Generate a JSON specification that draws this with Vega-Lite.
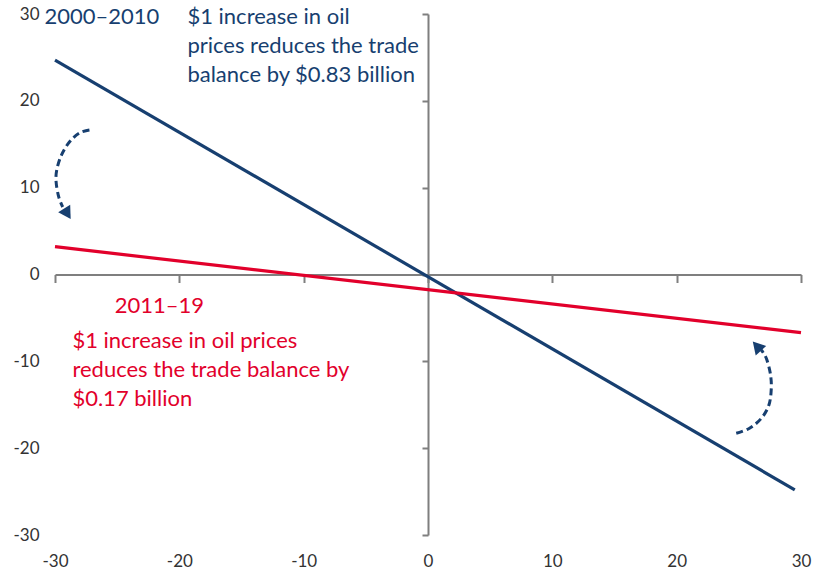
{
  "$schema": "https://vega.github.io/schema/vega-lite/v6.json",
  "width": 746,
  "height": 521,
  "autosize": {"type": "none"},
  "padding": {"left": 55, "top": 14, "right": 18, "bottom": 45},
  "background": "white",
  "config": {"view": {"stroke": null}, "font": "Lato"},
  "datasets": {
    "lines": [
      {"period": "2000–2010", "x": -30, "y": 24.7},
      {"period": "2000–2010", "x": 29.5, "y": -24.8},
      {"period": "2011–19", "x": -30, "y": 3.2},
      {"period": "2011–19", "x": 30, "y": -6.7}
    ],
    "arrows": [
      {"arrow": "left", "i": 1, "x": -27.23, "y": 16.64},
      {"arrow": "left", "i": 2, "x": -28.04, "y": 16.3},
      {"arrow": "left", "i": 3, "x": -28.84, "y": 15.26},
      {"arrow": "left", "i": 4, "x": -29.48, "y": 13.76},
      {"arrow": "left", "i": 5, "x": -29.86, "y": 12.03},
      {"arrow": "left", "i": 6, "x": -29.91, "y": 10.65},
      {"arrow": "left", "i": 7, "x": -29.7, "y": 8.93},
      {"arrow": "left", "i": 8, "x": -29.38, "y": 7.77},
      {"arrow": "right", "i": 1, "x": 24.79, "y": -18.29},
      {"arrow": "right", "i": 2, "x": 25.86, "y": -17.71},
      {"arrow": "right", "i": 3, "x": 26.81, "y": -16.56},
      {"arrow": "right", "i": 4, "x": 27.42, "y": -15.03},
      {"arrow": "right", "i": 5, "x": 27.61, "y": -13.11},
      {"arrow": "right", "i": 6, "x": 27.53, "y": -11.38},
      {"arrow": "right", "i": 7, "x": 27.21, "y": -9.65},
      {"arrow": "right", "i": 8, "x": 26.81, "y": -8.7}
    ],
    "heads": [
      {"arrow": "left", "x": -29.0, "y": 7.0},
      {"arrow": "right", "x": 26.45, "y": -8.25}
    ],
    "labels": [
      {"kind": "period", "color": "blue", "x": -30.85, "y": 29.7, "text": "2000–2010"},
      {"kind": "note", "color": "blue", "x": -19.35, "y": 29.7, "text": "$1 increase in oil\nprices reduces the trade\nbalance by $0.83 billion"},
      {"kind": "period", "color": "red", "x": -25.2, "y": -3.6, "text": "2011–19"},
      {"kind": "note", "color": "red", "x": -28.6, "y": -7.65, "text": "$1 increase in oil prices\nreduces the trade balance by\n$0.17 billion"}
    ]
  },
  "resolve": {"axis": {"x": "independent", "y": "independent"}},
  "layer": [
    {
      "data": {"name": "lines"},
      "mark": {"type": "line", "strokeWidth": 3.2, "clip": false},
      "encoding": {
        "x": {"field": "x", "type": "quantitative", "scale": {"domain": [-30, 30], "nice": false, "zero": false},
          "axis": {"orient": "bottom", "values": [-30, -20, -10, 0, 10, 20, 30], "labelExpr": "replace(datum.label, '−', '-')", "labelFlush": false, "labelOverlap": false, "domain": false, "ticks": false, "grid": false, "title": null, "labelFontSize": 17, "labelColor": "#333333", "labelPadding": 18, "labelFont": "Lato"}},
        "y": {"field": "y", "type": "quantitative", "scale": {"domain": [-30, 30], "nice": false, "zero": false},
          "axis": {"orient": "left", "values": [-30, -20, -10, 0, 10, 20, 30], "labelExpr": "replace(datum.label, '−', '-')", "labelFlush": false, "labelOverlap": false, "domain": false, "ticks": false, "grid": false, "title": null, "labelFontSize": 17, "labelColor": "#333333", "labelPadding": 16, "labelFont": "Lato"}},
        "color": {"field": "period", "type": "nominal", "scale": {"domain": ["2000–2010", "2011–19"], "range": ["#173f70", "#e2002b"]}, "legend": null}
      }
    },
    {
      "data": {"name": "arrows"},
      "mark": {"type": "line", "strokeWidth": 3, "strokeDash": [7, 4], "interpolate": "cardinal", "color": "#173f70", "clip": false},
      "encoding": {
        "x": {"field": "x", "type": "quantitative",
          "axis": {"orient": "bottom", "offset": -260.5, "values": [-30, -20, -10, 0, 10, 20, 30], "labels": false, "domain": true, "domainColor": "#7f7f7f", "domainWidth": 2, "ticks": true, "tickSize": 8, "tickColor": "#7f7f7f", "tickWidth": 2, "grid": false, "title": null}},
        "y": {"field": "y", "type": "quantitative",
          "axis": {"orient": "left", "offset": -373, "values": [-30, -20, -10, 0, 10, 20, 30], "labels": false, "domain": true, "domainColor": "#7f7f7f", "domainWidth": 2, "ticks": true, "tickSize": 6, "tickColor": "#7f7f7f", "tickWidth": 2, "grid": false, "title": null}},
        "detail": {"field": "arrow"},
        "order": {"field": "i", "type": "quantitative"}
      }
    },
    {
      "data": {"name": "heads"},
      "transform": [{"filter": "datum.arrow == 'left'"}],
      "mark": {"type": "point", "shape": "triangle-up", "filled": true, "size": 200, "angle": 148, "color": "#173f70", "opacity": 1},
      "encoding": {
        "x": {"field": "x", "type": "quantitative", "axis": null},
        "y": {"field": "y", "type": "quantitative", "axis": null}
      }
    },
    {
      "data": {"name": "heads"},
      "transform": [{"filter": "datum.arrow == 'right'"}],
      "mark": {"type": "point", "shape": "triangle-up", "filled": true, "size": 200, "angle": 318, "color": "#173f70", "opacity": 1},
      "encoding": {
        "x": {"field": "x", "type": "quantitative", "axis": null},
        "y": {"field": "y", "type": "quantitative", "axis": null}
      }
    },
    {
      "data": {"name": "labels"},
      "transform": [{"filter": "datum.kind == 'note'"}],
      "mark": {"type": "text", "align": "left", "baseline": "middle", "fontSize": 22, "lineHeight": 29, "lineBreak": "\n", "font": "Lato"},
      "encoding": {
        "x": {"field": "x", "type": "quantitative", "axis": null},
        "y": {"field": "y", "type": "quantitative", "axis": null},
        "text": {"field": "text"},
        "color": {"field": "color", "type": "nominal", "scale": {"domain": ["blue", "red"], "range": ["#173f70", "#e2002b"]}, "legend": null}
      }
    },
    {
      "data": {"name": "labels"},
      "transform": [{"filter": "datum.kind == 'period'"}],
      "mark": {"type": "text", "align": "left", "baseline": "middle", "fontSize": 22, "font": "Lato"},
      "encoding": {
        "x": {"field": "x", "type": "quantitative", "axis": null},
        "y": {"field": "y", "type": "quantitative", "axis": null},
        "text": {"field": "text"},
        "color": {"field": "color", "type": "nominal", "scale": {"domain": ["blue", "red"], "range": ["#173f70", "#e2002b"]}, "legend": null}
      }
    }
  ]
}
